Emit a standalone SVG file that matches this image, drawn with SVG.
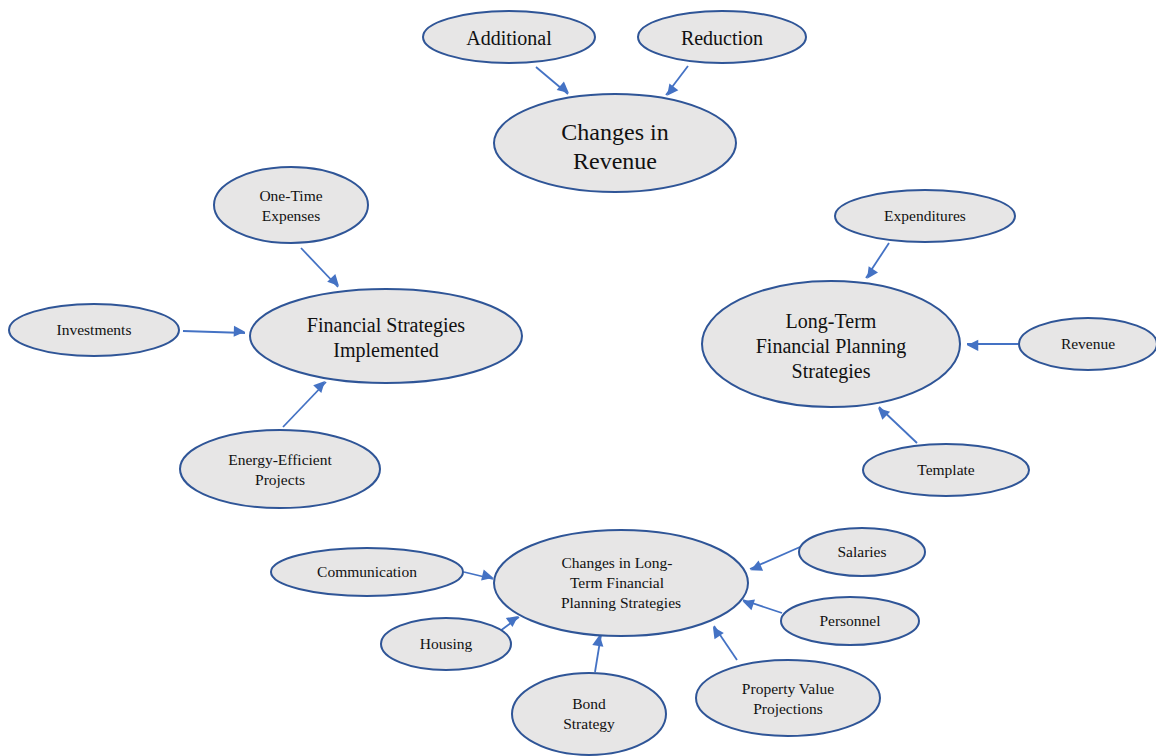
<svg xmlns="http://www.w3.org/2000/svg" width="1156" height="756" viewBox="0 0 1156 756">
<style>
.n{fill:#e7e6e6;stroke:#2f5597;stroke-width:2}
text{font-family:'Liberation Serif','Times New Roman',serif;fill:#111;text-anchor:middle}
.s{font-size:15.5px}
.m{font-size:20px}
.l{font-size:24px}
.c{stroke:#4472c4;stroke-width:1.8;fill:none;marker-end:url(#a)}
</style>
<defs>
<marker id="a" viewBox="0 0 10 10" refX="9" refY="5" markerWidth="7" markerHeight="7" markerUnits="userSpaceOnUse" orient="auto" overflow="visible">
<path d="M0,0 L10,5 L0,10 Z" fill="#4472c4" transform="scale(1.6) translate(-4.4,-3.1)"/>
</marker>
</defs>
<rect width="1156" height="756" fill="#fff"/>
<g id="connectors">
<line class="c" x1="536" y1="67" x2="568" y2="94"/>
<line class="c" x1="688" y1="66" x2="666" y2="95"/>
<line class="c" x1="301" y1="248" x2="338" y2="287"/>
<line class="c" x1="183" y1="331" x2="245" y2="333"/>
<line class="c" x1="283" y1="427" x2="326" y2="382"/>
<line class="c" x1="889" y1="243" x2="866" y2="278"/>
<line class="c" x1="1018" y1="344" x2="967" y2="344"/>
<line class="c" x1="917" y1="443" x2="879" y2="407"/>
<line class="c" x1="464" y1="572" x2="493" y2="579"/>
<line class="c" x1="492" y1="637" x2="519" y2="617"/>
<line class="c" x1="595" y1="672" x2="601" y2="635"/>
<line class="c" x1="737" y1="660" x2="714" y2="626"/>
<line class="c" x1="782" y1="613" x2="743" y2="600"/>
<line class="c" x1="800" y1="547" x2="750" y2="569"/>
</g>
<g id="changes-revenue"><ellipse class="n" cx="615" cy="143" rx="121" ry="49"/><text class="l"><tspan x="615" y="140">Changes in</tspan><tspan x="615" y="169">Revenue</tspan></text></g>
<g id="additional"><ellipse class="n" cx="509" cy="37" rx="86" ry="26"/><text class="m" x="509" y="45">Additional</text></g>
<g id="reduction"><ellipse class="n" cx="722" cy="37" rx="84" ry="26"/><text class="m" x="722" y="45">Reduction</text></g>
<g id="financial-strategies"><ellipse class="n" cx="386" cy="336" rx="136" ry="47"/><text class="m"><tspan x="386" y="332">Financial Strategies</tspan><tspan x="386" y="357">Implemented</tspan></text></g>
<g id="one-time"><ellipse class="n" cx="291" cy="205" rx="77" ry="38"/><text class="s"><tspan x="291" y="201">One-Time</tspan><tspan x="291" y="221">Expenses</tspan></text></g>
<g id="investments"><ellipse class="n" cx="94" cy="330" rx="85" ry="26"/><text class="s" x="94" y="335">Investments</text></g>
<g id="energy"><ellipse class="n" cx="280" cy="469" rx="100" ry="39"/><text class="s"><tspan x="280" y="465">Energy-Efficient</tspan><tspan x="280" y="485">Projects</tspan></text></g>
<g id="long-term"><ellipse class="n" cx="831" cy="344" rx="129" ry="63"/><text class="m"><tspan x="831" y="328">Long-Term</tspan><tspan x="831" y="353">Financial Planning</tspan><tspan x="831" y="378">Strategies</tspan></text></g>
<g id="expenditures"><ellipse class="n" cx="925" cy="216" rx="90" ry="26"/><text class="s" x="925" y="221">Expenditures</text></g>
<g id="revenue"><ellipse class="n" cx="1088" cy="344" rx="69" ry="26"/><text class="s" x="1088" y="349">Revenue</text></g>
<g id="template"><ellipse class="n" cx="946" cy="470" rx="83" ry="26"/><text class="s" x="946" y="475">Template</text></g>
<g id="changes-long-term"><ellipse class="n" cx="621" cy="583" rx="127" ry="53"/><text class="s"><tspan x="617" y="568">Changes in Long-</tspan><tspan x="617" y="588">Term Financial</tspan><tspan x="621" y="608">Planning Strategies</tspan></text></g>
<g id="communication"><ellipse class="n" cx="367" cy="572" rx="96" ry="24"/><text class="s" x="367" y="577">Communication</text></g>
<g id="housing"><ellipse class="n" cx="446" cy="644" rx="65" ry="26"/><text class="s" x="446" y="649">Housing</text></g>
<g id="bond"><ellipse class="n" cx="589" cy="714" rx="77" ry="41"/><text class="s"><tspan x="589" y="709">Bond</tspan><tspan x="589" y="729">Strategy</tspan></text></g>
<g id="property"><ellipse class="n" cx="788" cy="698" rx="92" ry="38"/><text class="s"><tspan x="788" y="694">Property Value</tspan><tspan x="788" y="714">Projections</tspan></text></g>
<g id="personnel"><ellipse class="n" cx="850" cy="621" rx="69" ry="24"/><text class="s" x="850" y="626">Personnel</text></g>
<g id="salaries"><ellipse class="n" cx="862" cy="552" rx="63" ry="24"/><text class="s" x="862" y="557">Salaries</text></g>
</svg>
